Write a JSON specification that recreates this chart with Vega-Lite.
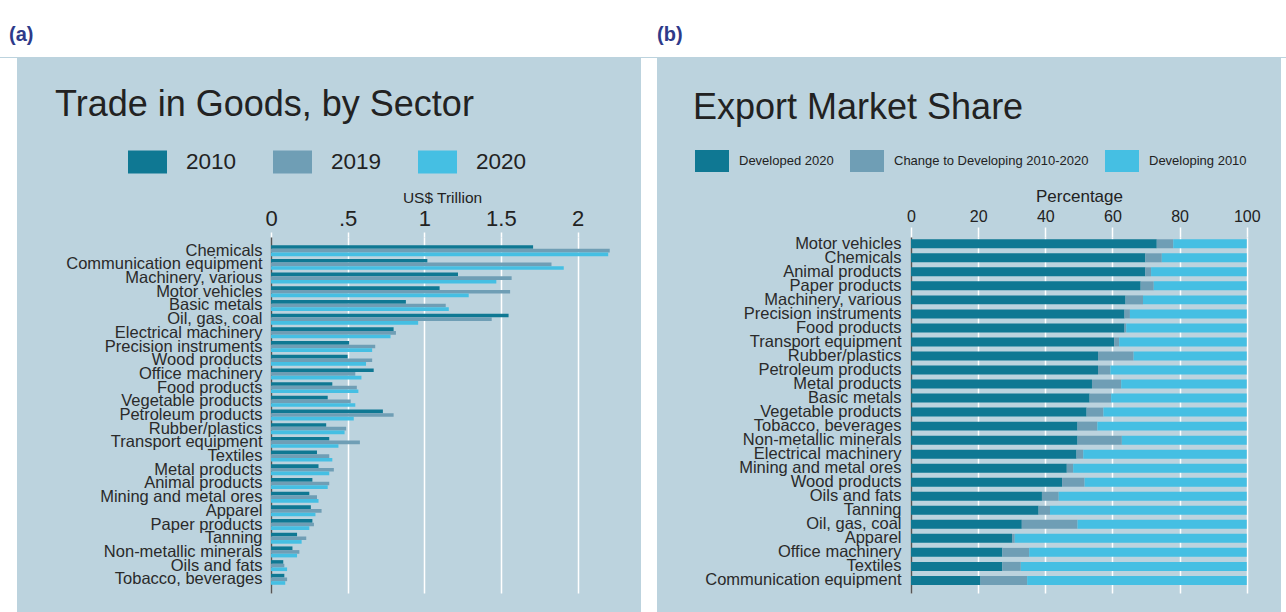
{
  "$schema": "https://vega.github.io/schema/vega-lite/v6.json",
  "background": "#bcd3de",
  "padding": 0,
  "spacing": 0,
  "config": {
    "font": "Liberation Sans",
    "view": {"stroke": null, "fill": null},
    "concat": {"spacing": 0}
  },
  "resolve": {"scale": {"color": "independent", "x": "independent", "y": "independent"}, "legend": {"color": "independent"}},
  "vconcat": [
    {
      "resolve": {"scale": {"x": "independent", "y": "independent"}},
      "hconcat": [
        {
          "width": 641,
          "height": 57,
          "view": {"fill": "white", "stroke": null},
          "data": {"values": [{"lab": "(a)"}]},
          "mark": {"type": "text", "align": "left", "baseline": "middle", "dx": 9, "dy": 6, "fontSize": 20, "fontWeight": "bold", "color": "#2e3a8a"},
          "encoding": {
            "x": {"field": "lab", "type": "nominal", "bandPosition": 0, "scale": {"type": "band", "paddingInner": 0, "paddingOuter": 0}, "axis": null},
            "text": {"field": "lab"}
          }
        },
        {
          "width": 645,
          "height": 57,
          "view": {"fill": "white", "stroke": null},
          "data": {"values": [{"lab": "(b)"}]},
          "mark": {"type": "text", "align": "left", "baseline": "middle", "dx": 16, "dy": 6, "fontSize": 20, "fontWeight": "bold", "color": "#2e3a8a"},
          "encoding": {
            "x": {"field": "lab", "type": "nominal", "bandPosition": 0, "scale": {"type": "band", "paddingInner": 0, "paddingOuter": 0}, "axis": null},
            "text": {"field": "lab"}
          }
        }
      ]
    },
    {
      "resolve": {"scale": {"color": "independent", "x": "independent", "y": "independent"}, "legend": {"color": "independent"}},
      "hconcat": [
        {
          "width": 17, "height": 376,
          "data": {"values": [{"from": 0, "to": 555}]},
          "mark": {"type": "rect", "color": "white", "strokeWidth": 0},
          "encoding": {
            "y": {"field": "from", "type": "quantitative", "scale": {"domain": [0, 376], "nice": false, "zero": false}, "axis": null},
            "y2": {"field": "to"}
          }
        },
        {
          "width": 370,
          "height": 356,
          "title": {"text": ["", "Trade in Goods, by Sector"], "anchor": "start", "frame": "group", "dx": -216, "fontSize": 36, "fontWeight": "normal", "color": "#222222", "lineHeight": 30, "offset": 18, "baseline": "top"},
          "data": {"values": [
            {"sector": "Chemicals", "year": "2010", "value": 1.71},
            {"sector": "Chemicals", "year": "2019", "value": 2.21},
            {"sector": "Chemicals", "year": "2020", "value": 2.2},
            {"sector": "Communication equipment", "year": "2010", "value": 1.02},
            {"sector": "Communication equipment", "year": "2019", "value": 1.83},
            {"sector": "Communication equipment", "year": "2020", "value": 1.91},
            {"sector": "Machinery, various", "year": "2010", "value": 1.22},
            {"sector": "Machinery, various", "year": "2019", "value": 1.57},
            {"sector": "Machinery, various", "year": "2020", "value": 1.47},
            {"sector": "Motor vehicles", "year": "2010", "value": 1.1},
            {"sector": "Motor vehicles", "year": "2019", "value": 1.56},
            {"sector": "Motor vehicles", "year": "2020", "value": 1.29},
            {"sector": "Basic metals", "year": "2010", "value": 0.88},
            {"sector": "Basic metals", "year": "2019", "value": 1.14},
            {"sector": "Basic metals", "year": "2020", "value": 1.16},
            {"sector": "Oil, gas, coal", "year": "2010", "value": 1.55},
            {"sector": "Oil, gas, coal", "year": "2019", "value": 1.44},
            {"sector": "Oil, gas, coal", "year": "2020", "value": 0.96},
            {"sector": "Electrical machinery", "year": "2010", "value": 0.8},
            {"sector": "Electrical machinery", "year": "2019", "value": 0.815},
            {"sector": "Electrical machinery", "year": "2020", "value": 0.78},
            {"sector": "Precision instruments", "year": "2010", "value": 0.51},
            {"sector": "Precision instruments", "year": "2019", "value": 0.68},
            {"sector": "Precision instruments", "year": "2020", "value": 0.66},
            {"sector": "Wood products", "year": "2010", "value": 0.5},
            {"sector": "Wood products", "year": "2019", "value": 0.66},
            {"sector": "Wood products", "year": "2020", "value": 0.62},
            {"sector": "Office machinery", "year": "2010", "value": 0.67},
            {"sector": "Office machinery", "year": "2019", "value": 0.55},
            {"sector": "Office machinery", "year": "2020", "value": 0.59},
            {"sector": "Food products", "year": "2010", "value": 0.4},
            {"sector": "Food products", "year": "2019", "value": 0.56},
            {"sector": "Food products", "year": "2020", "value": 0.57},
            {"sector": "Vegetable products", "year": "2010", "value": 0.37},
            {"sector": "Vegetable products", "year": "2019", "value": 0.52},
            {"sector": "Vegetable products", "year": "2020", "value": 0.55},
            {"sector": "Petroleum products", "year": "2010", "value": 0.73},
            {"sector": "Petroleum products", "year": "2019", "value": 0.8},
            {"sector": "Petroleum products", "year": "2020", "value": 0.54},
            {"sector": "Rubber/plastics", "year": "2010", "value": 0.36},
            {"sector": "Rubber/plastics", "year": "2019", "value": 0.49},
            {"sector": "Rubber/plastics", "year": "2020", "value": 0.48},
            {"sector": "Transport equipment", "year": "2010", "value": 0.38},
            {"sector": "Transport equipment", "year": "2019", "value": 0.58},
            {"sector": "Transport equipment", "year": "2020", "value": 0.44},
            {"sector": "Textiles", "year": "2010", "value": 0.3},
            {"sector": "Textiles", "year": "2019", "value": 0.38},
            {"sector": "Textiles", "year": "2020", "value": 0.4},
            {"sector": "Metal products", "year": "2010", "value": 0.31},
            {"sector": "Metal products", "year": "2019", "value": 0.41},
            {"sector": "Metal products", "year": "2020", "value": 0.38},
            {"sector": "Animal products", "year": "2010", "value": 0.27},
            {"sector": "Animal products", "year": "2019", "value": 0.38},
            {"sector": "Animal products", "year": "2020", "value": 0.37},
            {"sector": "Mining and metal ores", "year": "2010", "value": 0.25},
            {"sector": "Mining and metal ores", "year": "2019", "value": 0.3},
            {"sector": "Mining and metal ores", "year": "2020", "value": 0.31},
            {"sector": "Apparel", "year": "2010", "value": 0.26},
            {"sector": "Apparel", "year": "2019", "value": 0.33},
            {"sector": "Apparel", "year": "2020", "value": 0.29},
            {"sector": "Paper products", "year": "2010", "value": 0.27},
            {"sector": "Paper products", "year": "2019", "value": 0.28},
            {"sector": "Paper products", "year": "2020", "value": 0.25},
            {"sector": "Tanning", "year": "2010", "value": 0.17},
            {"sector": "Tanning", "year": "2019", "value": 0.23},
            {"sector": "Tanning", "year": "2020", "value": 0.2},
            {"sector": "Non-metallic minerals", "year": "2010", "value": 0.14},
            {"sector": "Non-metallic minerals", "year": "2019", "value": 0.185},
            {"sector": "Non-metallic minerals", "year": "2020", "value": 0.17},
            {"sector": "Oils and fats", "year": "2010", "value": 0.08},
            {"sector": "Oils and fats", "year": "2019", "value": 0.087},
            {"sector": "Oils and fats", "year": "2020", "value": 0.105},
            {"sector": "Tobacco, beverages", "year": "2010", "value": 0.087},
            {"sector": "Tobacco, beverages", "year": "2019", "value": 0.105},
            {"sector": "Tobacco, beverages", "year": "2020", "value": 0.093}
          ]},
          "mark": {"type": "bar"},
          "encoding": {
            "y": {
              "field": "sector", "type": "nominal",
              "sort": ["Chemicals", "Communication equipment", "Machinery, various", "Motor vehicles", "Basic metals", "Oil, gas, coal", "Electrical machinery", "Precision instruments", "Wood products", "Office machinery", "Food products", "Vegetable products", "Petroleum products", "Rubber/plastics", "Transport equipment", "Textiles", "Metal products", "Animal products", "Mining and metal ores", "Apparel", "Paper products", "Tanning", "Non-metallic minerals", "Oils and fats", "Tobacco, beverages"],
              "scale": {"paddingInner": 0.2, "paddingOuter": 0.6},
              "axis": {"title": null, "domain": true, "domainColor": "#555555", "domainWidth": 1.5, "ticks": false, "grid": false, "labelFontSize": 16.5, "labelColor": "#2a2a2a", "labelPadding": 9, "labelLimit": 0, "minExtent": 254, "maxExtent": 254}
            },
            "yOffset": {"field": "year", "type": "nominal", "sort": ["2010", "2019", "2020"]},
            "x": {
              "field": "value", "type": "quantitative",
              "scale": {"domain": [0, 2.414], "nice": false, "zero": true},
              "axis": {"orient": "top", "values": [0, 0.5, 1, 1.5, 2], "labelExpr": "datum.value == 0.5 ? '.5' : format(datum.value, '~g')", "domain": false, "ticks": true, "tickColor": "white", "tickSize": 5, "tickWidth": 1.5, "grid": true, "gridColor": "white", "gridWidth": 1.5, "gridOpacity": 1, "labelFontSize": 22, "labelColor": "#222222", "labelPadding": 2, "labelFlush": false, "title": "US$ Trillion", "titleX": 171, "titleFontSize": 15.5, "titleFontWeight": "normal", "titleColor": "#222222", "titlePadding": 2}
            },
            "color": {
              "field": "year", "type": "nominal",
              "scale": {"domain": ["2010", "2019", "2020"], "range": ["#0f7893", "#6f9eb5", "#45bfe3"]},
              "legend": {"orient": "none", "legendX": -143, "legendY": -95, "direction": "horizontal", "title": null, "symbolType": "M-1,-0.59H1V0.59H-1Z", "symbolSize": 1521, "symbolStrokeWidth": 0, "symbolOpacity": 1, "labelFontSize": 22.5, "labelColor": "#222222", "labelOffset": 19, "columnPadding": 36, "padding": 0}
            }
          }
        },
        {
          "width": 16, "height": 376,
          "data": {"values": [{"from": 0, "to": 555}]},
          "mark": {"type": "rect", "color": "white", "strokeWidth": 0},
          "encoding": {
            "y": {"field": "from", "type": "quantitative", "scale": {"domain": [0, 376], "nice": false, "zero": false}, "axis": null},
            "y2": {"field": "to"}
          }
        },
        {
          "width": 370,
          "height": 356,
          "title": {"text": ["", "Export Market Share"], "anchor": "start", "frame": "group", "dx": -218, "fontSize": 36, "fontWeight": "normal", "color": "#222222", "lineHeight": 30, "offset": 17, "baseline": "top"},
          "data": {"values": [
            {"sector": "Motor vehicles", "series": "Developed 2020", "start": 0, "end": 73.2},
            {"sector": "Motor vehicles", "series": "Change to Developing 2010-2020", "start": 73.2, "end": 78.1},
            {"sector": "Motor vehicles", "series": "Developing 2010", "start": 78.1, "end": 100},
            {"sector": "Chemicals", "series": "Developed 2020", "start": 0, "end": 69.8},
            {"sector": "Chemicals", "series": "Change to Developing 2010-2020", "start": 69.8, "end": 74.7},
            {"sector": "Chemicals", "series": "Developing 2010", "start": 74.7, "end": 100},
            {"sector": "Animal products", "series": "Developed 2020", "start": 0, "end": 69.8},
            {"sector": "Animal products", "series": "Change to Developing 2010-2020", "start": 69.8, "end": 71.5},
            {"sector": "Animal products", "series": "Developing 2010", "start": 71.5, "end": 100},
            {"sector": "Paper products", "series": "Developed 2020", "start": 0, "end": 68.4},
            {"sector": "Paper products", "series": "Change to Developing 2010-2020", "start": 68.4, "end": 72.3},
            {"sector": "Paper products", "series": "Developing 2010", "start": 72.3, "end": 100},
            {"sector": "Machinery, various", "series": "Developed 2020", "start": 0, "end": 63.9},
            {"sector": "Machinery, various", "series": "Change to Developing 2010-2020", "start": 63.9, "end": 69.1},
            {"sector": "Machinery, various", "series": "Developing 2010", "start": 69.1, "end": 100},
            {"sector": "Precision instruments", "series": "Developed 2020", "start": 0, "end": 63.6},
            {"sector": "Precision instruments", "series": "Change to Developing 2010-2020", "start": 63.6, "end": 65.2},
            {"sector": "Precision instruments", "series": "Developing 2010", "start": 65.2, "end": 100},
            {"sector": "Food products", "series": "Developed 2020", "start": 0, "end": 63.6},
            {"sector": "Food products", "series": "Change to Developing 2010-2020", "start": 63.6, "end": 64.1},
            {"sector": "Food products", "series": "Developing 2010", "start": 64.1, "end": 100},
            {"sector": "Transport equipment", "series": "Developed 2020", "start": 0, "end": 60.5},
            {"sector": "Transport equipment", "series": "Change to Developing 2010-2020", "start": 60.5, "end": 62.0},
            {"sector": "Transport equipment", "series": "Developing 2010", "start": 62.0, "end": 100},
            {"sector": "Rubber/plastics", "series": "Developed 2020", "start": 0, "end": 55.7},
            {"sector": "Rubber/plastics", "series": "Change to Developing 2010-2020", "start": 55.7, "end": 66.3},
            {"sector": "Rubber/plastics", "series": "Developing 2010", "start": 66.3, "end": 100},
            {"sector": "Petroleum products", "series": "Developed 2020", "start": 0, "end": 55.7},
            {"sector": "Petroleum products", "series": "Change to Developing 2010-2020", "start": 55.7, "end": 59.4},
            {"sector": "Petroleum products", "series": "Developing 2010", "start": 59.4, "end": 100},
            {"sector": "Metal products", "series": "Developed 2020", "start": 0, "end": 53.9},
            {"sector": "Metal products", "series": "Change to Developing 2010-2020", "start": 53.9, "end": 62.6},
            {"sector": "Metal products", "series": "Developing 2010", "start": 62.6, "end": 100},
            {"sector": "Basic metals", "series": "Developed 2020", "start": 0, "end": 53.2},
            {"sector": "Basic metals", "series": "Change to Developing 2010-2020", "start": 53.2, "end": 59.6},
            {"sector": "Basic metals", "series": "Developing 2010", "start": 59.6, "end": 100},
            {"sector": "Vegetable products", "series": "Developed 2020", "start": 0, "end": 52.3},
            {"sector": "Vegetable products", "series": "Change to Developing 2010-2020", "start": 52.3, "end": 57.3},
            {"sector": "Vegetable products", "series": "Developing 2010", "start": 57.3, "end": 100},
            {"sector": "Tobacco, beverages", "series": "Developed 2020", "start": 0, "end": 49.6},
            {"sector": "Tobacco, beverages", "series": "Change to Developing 2010-2020", "start": 49.6, "end": 55.5},
            {"sector": "Tobacco, beverages", "series": "Developing 2010", "start": 55.5, "end": 100},
            {"sector": "Non-metallic minerals", "series": "Developed 2020", "start": 0, "end": 49.6},
            {"sector": "Non-metallic minerals", "series": "Change to Developing 2010-2020", "start": 49.6, "end": 62.8},
            {"sector": "Non-metallic minerals", "series": "Developing 2010", "start": 62.8, "end": 100},
            {"sector": "Electrical machinery", "series": "Developed 2020", "start": 0, "end": 49.3},
            {"sector": "Electrical machinery", "series": "Change to Developing 2010-2020", "start": 49.3, "end": 51.3},
            {"sector": "Electrical machinery", "series": "Developing 2010", "start": 51.3, "end": 100},
            {"sector": "Mining and metal ores", "series": "Developed 2020", "start": 0, "end": 46.4},
            {"sector": "Mining and metal ores", "series": "Change to Developing 2010-2020", "start": 46.4, "end": 48.3},
            {"sector": "Mining and metal ores", "series": "Developing 2010", "start": 48.3, "end": 100},
            {"sector": "Wood products", "series": "Developed 2020", "start": 0, "end": 45.0},
            {"sector": "Wood products", "series": "Change to Developing 2010-2020", "start": 45.0, "end": 51.7},
            {"sector": "Wood products", "series": "Developing 2010", "start": 51.7, "end": 100},
            {"sector": "Oils and fats", "series": "Developed 2020", "start": 0, "end": 39.0},
            {"sector": "Oils and fats", "series": "Change to Developing 2010-2020", "start": 39.0, "end": 44.0},
            {"sector": "Oils and fats", "series": "Developing 2010", "start": 44.0, "end": 100},
            {"sector": "Tanning", "series": "Developed 2020", "start": 0, "end": 38.0},
            {"sector": "Tanning", "series": "Change to Developing 2010-2020", "start": 38.0, "end": 41.4},
            {"sector": "Tanning", "series": "Developing 2010", "start": 41.4, "end": 100},
            {"sector": "Oil, gas, coal", "series": "Developed 2020", "start": 0, "end": 33.0},
            {"sector": "Oil, gas, coal", "series": "Change to Developing 2010-2020", "start": 33.0, "end": 49.6},
            {"sector": "Oil, gas, coal", "series": "Developing 2010", "start": 49.6, "end": 100},
            {"sector": "Apparel", "series": "Developed 2020", "start": 0, "end": 30.1},
            {"sector": "Apparel", "series": "Change to Developing 2010-2020", "start": 30.1, "end": 30.9},
            {"sector": "Apparel", "series": "Developing 2010", "start": 30.9, "end": 100},
            {"sector": "Office machinery", "series": "Developed 2020", "start": 0, "end": 27.2},
            {"sector": "Office machinery", "series": "Change to Developing 2010-2020", "start": 27.2, "end": 35.2},
            {"sector": "Office machinery", "series": "Developing 2010", "start": 35.2, "end": 100},
            {"sector": "Textiles", "series": "Developed 2020", "start": 0, "end": 27.2},
            {"sector": "Textiles", "series": "Change to Developing 2010-2020", "start": 27.2, "end": 32.7},
            {"sector": "Textiles", "series": "Developing 2010", "start": 32.7, "end": 100},
            {"sector": "Communication equipment", "series": "Developed 2020", "start": 0, "end": 20.7},
            {"sector": "Communication equipment", "series": "Change to Developing 2010-2020", "start": 20.7, "end": 34.6},
            {"sector": "Communication equipment", "series": "Developing 2010", "start": 34.6, "end": 100}
          ]},
          "mark": {"type": "bar"},
          "encoding": {
            "y": {
              "field": "sector", "type": "nominal",
              "sort": ["Motor vehicles", "Chemicals", "Animal products", "Paper products", "Machinery, various", "Precision instruments", "Food products", "Transport equipment", "Rubber/plastics", "Petroleum products", "Metal products", "Basic metals", "Vegetable products", "Tobacco, beverages", "Non-metallic minerals", "Electrical machinery", "Mining and metal ores", "Wood products", "Oils and fats", "Tanning", "Oil, gas, coal", "Apparel", "Office machinery", "Textiles", "Communication equipment"],
              "scale": {"paddingInner": 0.36, "paddingOuter": 0.37, "align": 0.22},
              "axis": {"title": null, "domain": true, "domainColor": "#555555", "domainWidth": 1.5, "ticks": false, "grid": false, "labelFontSize": 16.5, "labelColor": "#2a2a2a", "labelPadding": 10, "labelLimit": 0, "minExtent": 254, "maxExtent": 254}
            },
            "x": {
              "field": "start", "type": "quantitative",
              "scale": {"domain": [0, 110.2], "nice": false, "zero": true},
              "axis": {"orient": "top", "values": [0, 20, 40, 60, 80, 100], "domain": false, "ticks": true, "tickColor": "white", "tickSize": 10, "tickWidth": 1.5, "grid": true, "gridColor": "white", "gridWidth": 1.5, "gridOpacity": 1, "labelFontSize": 16, "labelColor": "#222222", "labelPadding": 3, "labelFlush": false, "title": "Percentage", "titleX": 168, "titleFontSize": 17, "titleFontWeight": "normal", "titleColor": "#222222", "titlePadding": 3}
            },
            "x2": {"field": "end"},
            "color": {
              "field": "series", "type": "nominal",
              "scale": {"domain": ["Developed 2020", "Change to Developing 2010-2020", "Developing 2010"], "range": ["#0f7893", "#6f9eb5", "#45bfe3"]},
              "legend": {"orient": "none", "legendX": -216, "legendY": -93, "direction": "horizontal", "title": null, "symbolType": "M-1,-0.647H1V0.647H-1Z", "symbolSize": 1156, "symbolStrokeWidth": 0, "symbolOpacity": 1, "labelFontSize": 13, "labelColor": "#222222", "labelOffset": 10, "columnPadding": 16, "padding": 0, "labelLimit": 0}
            }
          }
        },
        {
          "width": 5, "height": 376,
          "data": {"values": [{"from": 0, "to": 555}]},
          "mark": {"type": "rect", "color": "white", "strokeWidth": 0},
          "encoding": {
            "y": {"field": "from", "type": "quantitative", "scale": {"domain": [0, 376], "nice": false, "zero": false}, "axis": null},
            "y2": {"field": "to"}
          }
        }
      ]
    }
  ]
}
